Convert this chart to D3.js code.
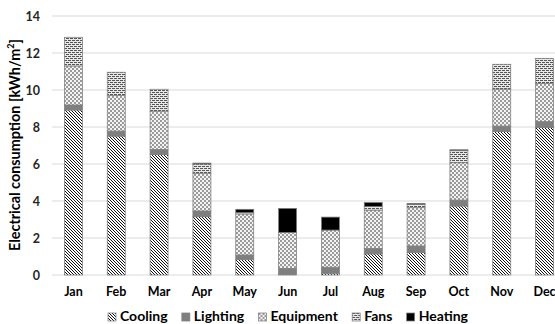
<!DOCTYPE html>
<html><head><meta charset="utf-8">
<script src="https://cdn.jsdelivr.net/npm/d3@7"></script>
<style>body{margin:0;background:#fff;} svg{display:block;font-family:Lato,"Open Sans",sans-serif;}</style>
</head><body>
<svg id="c" width="555" height="324"></svg>
<script>
const months = ["Jan","Feb","Mar","Apr","May","Jun","Jul","Aug","Sep","Oct","Nov","Dec"];
const seriesNames = ["Cooling","Lighting","Equipment","Fans","Heating"];
const cooling   = [8.92,7.51,6.52,3.15,0.85,0.05,0.10,1.14,1.23,3.73,7.75,7.98];
const lighting  = [0.27,0.27,0.27,0.31,0.23,0.31,0.32,0.30,0.34,0.32,0.30,0.31];
const equipment = [2.11,1.92,2.07,2.04,2.22,1.94,2.01,2.07,2.07,2.02,2.00,2.07];
const fans      = [1.55,1.26,1.18,0.50,0.07,0.00,0.00,0.19,0.18,0.65,1.34,1.35];
const heating   = [0.00,0.00,0.00,0.05,0.18,1.30,0.70,0.22,0.05,0.05,0.00,0.00];
const yTicks = [0,2,4,6,8,10,12,14];

const svg = d3.select("#c");
const defs = svg.append("defs");
const pc = defs.append("pattern").attr("id","p-cool").attr("patternUnits","userSpaceOnUse").attr("width",3).attr("height",3);
pc.append("rect").attr("width",3).attr("height",3).attr("fill","#fff");
pc.append("path").attr("d","M-1,-1 L4,4 M-1,2 L1,4 M2,-1 L4,1").attr("stroke","#111").attr("stroke-width",1);
const pe = defs.append("pattern").attr("id","p-equip").attr("patternUnits","userSpaceOnUse").attr("width",4).attr("height",4);
pe.append("rect").attr("width",4).attr("height",4).attr("fill","#f4f4f4");
pe.append("rect").attr("width",2).attr("height",2).attr("fill","#9a9a9a");
pe.append("rect").attr("x",2).attr("y",2).attr("width",2).attr("height",2).attr("fill","#9a9a9a");
const pf = defs.append("pattern").attr("id","p-fans").attr("patternUnits","userSpaceOnUse").attr("width",4).attr("height",4);
pf.append("rect").attr("width",4).attr("height",4).attr("fill","#e8e8e8");
pf.append("rect").attr("x",0).attr("y",0).attr("width",3).attr("height",1).attr("fill","#555");
pf.append("rect").attr("x",2).attr("y",2).attr("width",3).attr("height",1).attr("fill","#555");
pf.append("rect").attr("x",-2).attr("y",2).attr("width",3).attr("height",1).attr("fill","#555");
const fills = {Cooling:"url(#p-cool)",Lighting:"#7f7f7f",Equipment:"url(#p-equip)",Fans:"url(#p-fans)",Heating:"#000"};

const x = d3.scaleBand().domain(months).range([52,566]).paddingInner(0.58).paddingOuter(0.29);
const y = d3.scaleLinear().domain([0,14]).range([275,16]);

svg.append("g").selectAll("line").data(yTicks.filter(d=>d>0)).join("line")
  .attr("x1",52).attr("x2",566).attr("y1",d=>y(d)).attr("y2",d=>y(d))
  .attr("stroke","#d9d9d9").attr("stroke-width",1);
svg.append("line").attr("x1",52).attr("x2",566).attr("y1",y(0)).attr("y2",y(0)).attr("stroke","#d9d9d9");

const yAxis = d3.axisLeft(y).tickValues(yTicks).tickSize(0).tickPadding(0).tickFormat(d3.format("d"));
const ya = svg.append("g").attr("transform","translate(40,0)").call(yAxis);
ya.select(".domain").remove();
ya.selectAll("text").attr("font-size",12.5).attr("font-weight","bold").attr("fill","#262626").attr("font-family","Lato,sans-serif");

const xAxis = d3.axisBottom(x).tickSize(0).tickPadding(0);
const xa = svg.append("g").attr("transform","translate(0,287)").call(xAxis);
xa.select(".domain").remove();
xa.selectAll("text").attr("font-size",12.5).attr("font-weight","bold").attr("fill","#000").attr("font-family","Lato,sans-serif");

const table = months.map((m,i)=>({month:m,Cooling:cooling[i],Lighting:lighting[i],Equipment:equipment[i],Fans:fans[i],Heating:heating[i]}));
const stack = d3.stack().keys(seriesNames)(table);
svg.append("g").selectAll("g").data(stack).join("g")
  .attr("fill",d=>fills[d.key])
  .selectAll("rect").data(d=>d.filter(s=>s[1]-s[0]>0)).join("rect")
  .attr("x",d=>x(d.data.month)).attr("width",x.bandwidth())
  .attr("y",d=>y(d[1])).attr("height",d=>y(d[0])-y(d[1]))
  .attr("stroke","#7f7f7f").attr("stroke-width",0.75);

const t = svg.append("text").attr("transform","translate(20,145) rotate(-90)")
  .attr("text-anchor","middle").attr("font-size",14.4).attr("font-weight","bold").attr("fill","#000")
  .attr("font-family","Lato,sans-serif");
t.append("tspan").text("Electrical consumption [kWh/m");
t.append("tspan").attr("font-size",9).attr("dy",-6).text("2");
t.append("tspan").attr("dy",6).text("]");

// legend, laid out to span 108..468
const lg = svg.append("g").selectAll("g").data(seriesNames).join("g");
lg.append("rect").attr("width",8).attr("height",8).attr("y",-8).attr("fill",d=>fills[d]).attr("stroke","#7f7f7f").attr("stroke-width",0.75);
lg.append("text").attr("x",12).attr("y",0).attr("font-size",14).attr("font-weight","bold").attr("fill","#000")
  .attr("font-family","Lato,sans-serif").text(d=>d);
const widths = lg.nodes().map(n=>12+d3.select(n).select("text").node().getComputedTextLength());
const total = d3.sum(widths);
const gap = (360-total)/(seriesNames.length-1);
let cx = 108;
lg.each(function(d,i){ d3.select(this).attr("transform",`translate(${cx},321)`); cx += widths[i]+gap; });
</script>
</body></html>
